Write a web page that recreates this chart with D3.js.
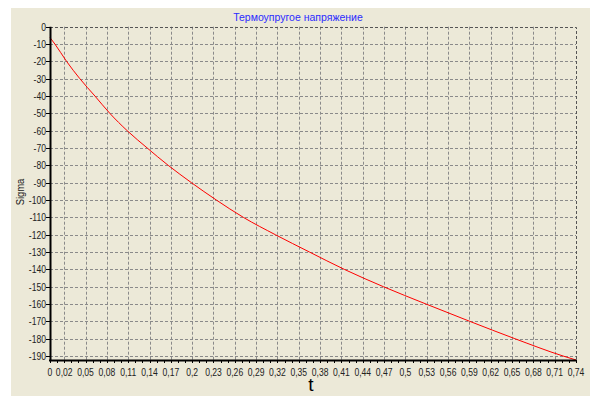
<!DOCTYPE html>
<html>
<head>
<meta charset="utf-8">
<script src="https://cdn.jsdelivr.net/npm/d3@7"></script>
<style>
  body { margin: 0; background: #fff; }
  text { font-family: "Liberation Sans", Arial, sans-serif; }
  .tick-label { font-size: 11px; fill: #222; }
</style>
</head>
<body>
<div id="chart"></div>
<script>
// Thermoelastic stress, sigma vs t

var tValues = [0, 0.0069, 0.0233, 0.042, 0.0632, 0.0842, 0.1086, 0.1368, 0.1663, 0.199,
  0.234, 0.272, 0.317, 0.365, 0.414, 0.469, 0.529, 0.5906, 0.654, 0.7218, 0.74];
var sigmaValues = [-6.3, -10, -20, -30, -40, -50, -60, -70, -80, -90,
  -100, -110, -120, -130, -140, -150, -160, -170, -180, -190, -192.3];

var xTicks = [0, 0.02, 0.05, 0.08, 0.11, 0.14, 0.17, 0.2, 0.23, 0.26, 0.29, 0.32, 0.35,
  0.38, 0.41, 0.44, 0.47, 0.5, 0.53, 0.56, 0.59, 0.62, 0.65, 0.68, 0.71, 0.74];
var yTicks = d3.range(0, -191, -10);

var title = "Термоупругое напряжение",
  xTitle = "t",
  yTitle = "Sigma";

var w = 590, h = 396;
var pLeft = 50, pRight = 576, pTop = 26.7, pBottom = 360;
var squeeze = 0.78; // labels are narrow in the original

var svg = d3.select("#chart").append("svg")
  .attr("width", w)
  .attr("height", h);

// beige panel
svg.append("rect")
  .attr("x", 11)
  .attr("y", 8)
  .attr("width", w - 11)
  .attr("height", h - 8)
  .style("fill", "#ece9d8");

var x = d3.scaleLinear().domain([0, 0.74]).range([pLeft, pRight]);
var y = d3.scaleLinear().domain([-192.3, 0]).range([pBottom, pTop]);

var comma = function(d) { return String(+d.toFixed(2)).replace(".", ","); };
var snap = function(v) { return Math.round(v) + 0.5; };

// grid
svg.append("g").selectAll("line")
  .data(xTicks.slice(1, -1))
.enter().append("line")
  .attr("x1", function(d) { return snap(x(d)); })
  .attr("x2", function(d) { return snap(x(d)); })
  .attr("y1", pTop)
  .attr("y2", pBottom)
  .style("stroke", "#8a8a8a")
  .style("stroke-dasharray", "3,2");

svg.append("g").selectAll("line")
  .data(yTicks.slice(1))
.enter().append("line")
  .attr("x1", pLeft)
  .attr("x2", pRight)
  .attr("y1", function(d) { return snap(y(d)); })
  .attr("y2", function(d) { return snap(y(d)); })
  .style("stroke", "#8a8a8a")
  .style("stroke-dasharray", "3,2");

// top and right border
svg.append("path")
  .attr("d", "M" + pLeft + "," + snap(pTop) + "H" + snap(pRight) + "V" + pBottom)
  .style("fill", "none")
  .style("stroke", "#555")
  .style("stroke-dasharray", "3,2");

// curve
var pts = d3.zip(tValues, sigmaValues);
svg.append("path")
  .datum(pts)
  .attr("d", d3.line()
    .x(function(d) { return x(d[0]); })
    .y(function(d) { return y(d[1]); })
    .curve(d3.curveMonotoneX))
  .style("fill", "none")
  .style("stroke", "#ff0000")
  .style("stroke-width", 1);

// x axis
var xAxis = svg.append("g")
  .attr("transform", "translate(0," + pBottom + ")");

xAxis.selectAll(".minor")
  .data(d3.range(0, 75).map(function(i) { return i / 100; }))
.enter().append("line")
  .attr("class", "minor")
  .attr("x1", function(d) { return snap(x(d)); })
  .attr("x2", function(d) { return snap(x(d)); })
  .attr("y1", 0)
  .attr("y2", 3)
  .style("stroke", "#000");

xAxis.selectAll("text")
  .data(xTicks)
.enter().append("text")
  .attr("class", "tick-label")
  .attr("transform", function(d) { return "translate(" + x(d) + ",16) scale(" + squeeze + ",1)"; })
  .attr("text-anchor", "middle")
  .text(comma);

xAxis.append("line")
  .attr("x1", pLeft - 1)
  .attr("x2", pRight + 1)
  .attr("y1", 0.5)
  .attr("y2", 0.5)
  .style("stroke", "#000")
  .style("stroke-width", 2);

// y axis
var yAxis = svg.append("g");

yAxis.selectAll("line")
  .data(yTicks)
.enter().append("line")
  .attr("x1", pLeft - 4)
  .attr("x2", pLeft)
  .attr("y1", function(d) { return snap(y(d)); })
  .attr("y2", function(d) { return snap(y(d)); })
  .style("stroke", "#000");

yAxis.selectAll("text")
  .data(yTicks)
.enter().append("text")
  .attr("class", "tick-label")
  .attr("transform", function(d) { return "translate(" + (pLeft - 4) + "," + y(d) + ") scale(" + squeeze + ",1)"; })
  .attr("dy", ".35em")
  .attr("text-anchor", "end")
  .text(String);

yAxis.append("line")
  .attr("x1", pLeft + 0.5)
  .attr("x2", pLeft + 0.5)
  .attr("y1", pTop)
  .attr("y2", pBottom + 1)
  .style("stroke", "#000")
  .style("stroke-width", 2);

// titles
svg.append("text")
  .attr("x", 298)
  .attr("y", 21)
  .attr("text-anchor", "middle")
  .style("font-size", "10.5px")
  .style("fill", "#2b2bff")
  .text(title);

svg.append("text")
  .attr("x", 311)
  .attr("y", 391)
  .attr("text-anchor", "middle")
  .style("font-size", "19px")
  .style("fill", "#000")
  .text(xTitle);

svg.append("text")
  .attr("transform", "translate(24,192) rotate(-90) scale(0.9,1)")
  .attr("text-anchor", "middle")
  .style("font-size", "10.5px")
  .style("fill", "#222")
  .text(yTitle);
</script>
</body>
</html>
